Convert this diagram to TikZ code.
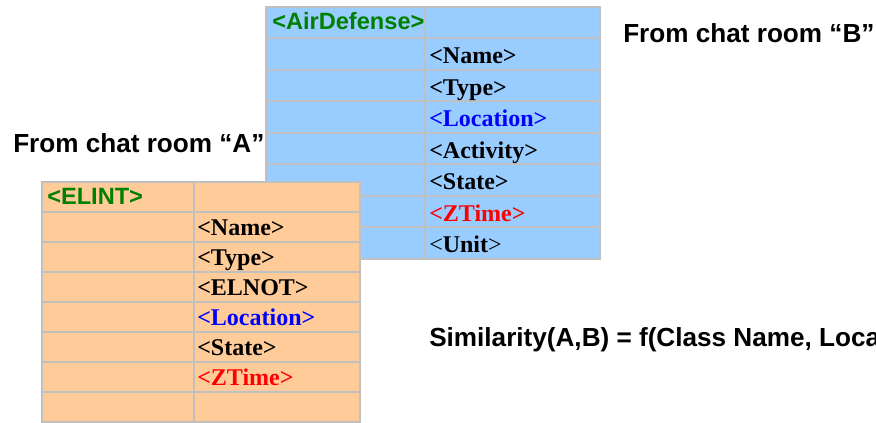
\documentclass[tikz,border=0pt]{standalone}
\usepackage{fontspec}
\setmainfont{Liberation Serif}
\newfontfamily\arialfont{Liberation Sans}
\usetikzlibrary{positioning}

\definecolor{airblue}{HTML}{99CCFF}
\definecolor{elintorange}{HTML}{FFCC99}
\definecolor{cellgray}{HTML}{C0C0C0}
\definecolor{tagGreen}{HTML}{008000}
\definecolor{tagBlue}{HTML}{0000FF}
\definecolor{tagRed}{HTML}{FF0000}

\begin{document}
\begin{tikzpicture}[x=0.75pt,y=-0.75pt,
    cell/.style={draw=cellgray,line width=1.5pt},
    tag/.style={font=\fontsize{18}{20}\selectfont\bfseries,anchor=base west,inner sep=0pt},
    cls/.style={font=\arialfont\fontsize{17.7}{20}\selectfont\bfseries,anchor=base west,inner sep=0pt,text=tagGreen},
    caption/.style={font=\arialfont\fontsize{19.6}{22}\selectfont\bfseries,anchor=base west,inner sep=0pt}]
    \useasboundingbox (0,0) rectangle (876,423);
    \clip (0,0) rectangle (876,423);

    % chat room B table
    \foreach \r in {0,...,7} {
        \filldraw[cell,fill=airblue] (266,{7+31.5*\r}) rectangle (425,{38.5+31.5*\r});
        \filldraw[cell,fill=airblue] (425,{7+31.5*\r}) rectangle (600,{38.5+31.5*\r});
    }
    \node[cls] (b0) at (272,30) {<AirDefense>};
    \foreach \t/\c [count=\i] in {{<Name>}/black,{<Type>}/black,{<Location>}/tagBlue,
        {<Activity>}/black,{<State>}/black,{<ZTime>}/tagRed}
        \node[tag,text=\c] (b\i) at (429,{32.5+31.5*\i}) {\t};
    \node[tag] (b7) at (429,253) {{\mdseries<}Unit{\mdseries>}};

    % chat room A table
    \foreach \r in {0,...,7} {
        \filldraw[cell,fill=elintorange] (42,{182+30*\r}) rectangle (194,{212+30*\r});
        \filldraw[cell,fill=elintorange] (194,{182+30*\r}) rectangle (360,{212+30*\r});
    }
    \node[cls] (a0) at (47,205) {<ELINT>};
    \foreach \t/\c [count=\i] in {{<Name>}/black,{<Type>}/black,{<ELNOT>}/black,
        {<Location>}/tagBlue,{<State>}/black,{<ZTime>}/tagRed}
        \node[tag,text=\c] (a\i) at (197,{205.5+30*\i}) {\t};

    % labels
    \node[caption] (roomB) at (623,43) {From chat room “B”};
    \node[caption] (roomA) at (13,153) {From chat room “A”};
    \node[caption] (sim) at (429,347) {Similarity(A,B) = f(Class Name, Location)};
\end{tikzpicture}
\end{document}
